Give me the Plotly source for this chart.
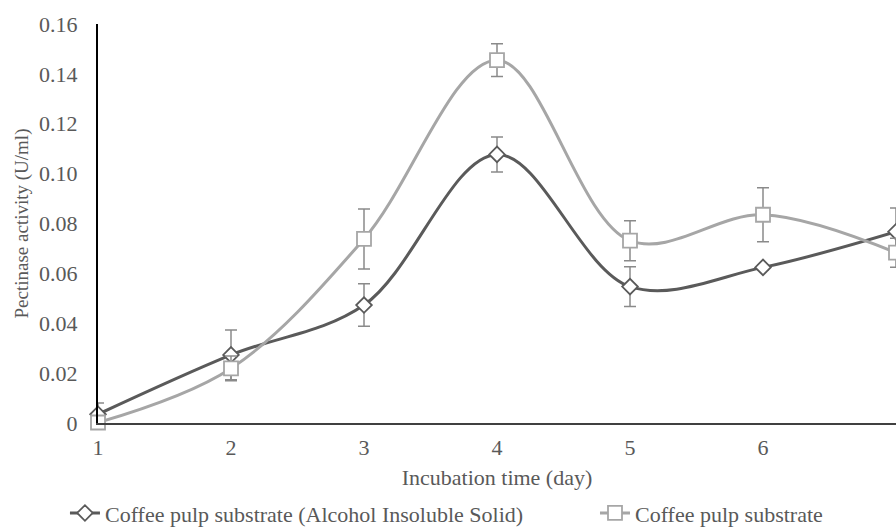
import plotly.graph_objects as go

days = [1, 2, 3, 4, 5, 6, 7]
ais_values = [0.0035, 0.0273, 0.0473, 0.1077, 0.0547, 0.0624, 0.0767]
ais_errors = [0.0045, 0.0100, 0.0085, 0.0070, 0.0080, 0.0010, 0.0095]
pulp_values = [0.0002, 0.0219, 0.0738, 0.1455, 0.0731, 0.0835, 0.0683]
pulp_errors = [0.0000, 0.0050, 0.0120, 0.0066, 0.0080, 0.0108, 0.0058]

y_tickvals = [0, 0.02, 0.04, 0.06, 0.08, 0.10, 0.12, 0.14, 0.16]
y_ticktext = ["0", "0.02", "0.04", "0.06", "0.08", "0.10", "0.12", "0.14", "0.16"]

FONT = "Liberation Serif"
DARK = "#5a5a5a"
LIGHT = "#a6a6a6"
ERR = "#8a8a8a"
TXT = "#595959"

fig = go.Figure()
fig.add_trace(go.Scatter(
    x=days, y=ais_values, mode="lines+markers",
    name="Coffee pulp substrate (Alcohol Insoluble Solid)",
    line=dict(color=DARK, width=3, shape="spline", smoothing=1.0),
    marker=dict(symbol="diamond", size=12, color="white", line=dict(color=DARK, width=1.8)),
    error_y=dict(type="data", array=ais_errors, visible=True, color=ERR, thickness=1.5, width=6),
    cliponaxis=False, legend="legend",
))
fig.add_trace(go.Scatter(
    x=days, y=pulp_values, mode="lines+markers",
    name="Coffee pulp substrate",
    line=dict(color=LIGHT, width=3, shape="spline", smoothing=1.0),
    marker=dict(symbol="square", size=14, color="white", line=dict(color=LIGHT, width=1.8)),
    error_y=dict(type="data", array=pulp_errors, visible=True, color=ERR, thickness=1.5, width=6),
    cliponaxis=False, legend="legend2",
))

legend_common = dict(orientation="h", xanchor="left", y=-0.226, yanchor="middle",
                     font=dict(family=FONT, size=22, color=TXT), itemwidth=30,
                     bgcolor="rgba(0,0,0,0)")

fig.update_layout(
    width=896, height=528,
    margin=dict(l=98, r=0, t=24, b=105, autoexpand=False),
    paper_bgcolor="white", plot_bgcolor="white",
    font=dict(family=FONT, size=22, color=TXT),
    showlegend=True,
    legend=dict(x=-0.0414, **legend_common),
    legend2=dict(x=0.6228, **legend_common),
)
fig.update_xaxes(
    range=[1, 7], tickvals=days, ticktext=[str(d) for d in days],
    showgrid=False, zeroline=False, showline=True, linecolor="#404040", linewidth=2,
    ticks="", ticklabelstandoff=4, tickfont=dict(family=FONT, size=22, color=TXT),
    title=dict(text="Incubation time (day)", font=dict(family=FONT, size=22, color=TXT), standoff=10),
)
fig.update_yaxes(
    range=[0, 0.16], tickvals=y_tickvals, ticktext=y_ticktext,
    showgrid=False, zeroline=False, showline=True, linecolor="black", linewidth=2,
    ticks="", ticklabelstandoff=14, tickfont=dict(family=FONT, size=22, color=TXT),
    title=dict(text="Pectinase activity (U/ml)", font=dict(family=FONT, size=19, color=TXT), standoff=5),
)

fig.write_html("out.html")
